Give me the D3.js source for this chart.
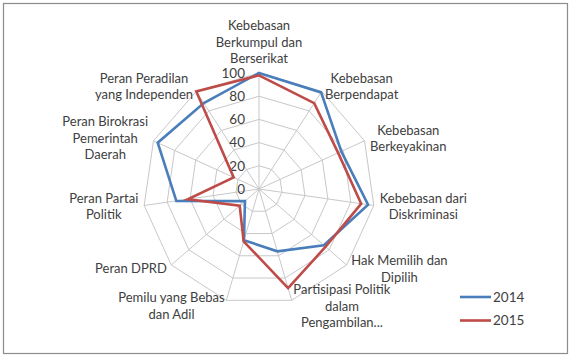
<!DOCTYPE html>
<html>
<head>
<meta charset="utf-8">
<script src="https://cdn.jsdelivr.net/npm/d3@7"></script>
<style>
  body { margin: 0; background: #fff; }
  svg text { font-family: Lato, "Open Sans", sans-serif; fill: #404040; }
</style>
</head>
<body>
<svg id="chart"></svg>
<script>
// categories, clockwise from the top
const categories = [
  ['Kebebasan', 'Berkumpul dan', 'Berserikat'],
  ['Kebebasan', 'Berpendapat'],
  ['Kebebasan', 'Berkeyakinan'],
  ['Kebebasan dari', 'Diskriminasi'],
  ['Hak Memilih dan', 'Dipilih'],
  ['Partisipasi Politik', 'dalam', 'Pengambilan...'],
  ['Pemilu yang Bebas', 'dan Adil'],
  ['Peran DPRD'],
  ['Peran Partai', 'Politik'],
  ['Peran Birokrasi', 'Pemerintah', 'Daerah'],
  ['Peran Peradilan', 'yang Independen']
];

const values2014 = [100, 99, 78, 95, 74, 56, 46, 16, 72, 96, 88];
const values2015 = [98, 88, 75, 89, 76, 89, 47, 22, 62, 24, 100];

const ticks = [0, 20, 40, 60, 80, 100];

const seriesNames = ['2014', '2015'];
const seriesColors = ['#4a7ebb', '#be4b48'];

const width = 573, height = 359;
const cx = 259, cy = 189, radius = 116;

const svg = d3.select('#chart')
    .attr('width', width)
    .attr('height', height);

// chart border
svg.append('rect')
    .attr('x', 3.5).attr('y', 3.5)
    .attr('width', 564).attr('height', 350)
    .attr('fill', '#fff')
    .attr('stroke', '#8c8c8c')
    .attr('stroke-width', 1.2);

const g = svg.append('g').attr('transform', `translate(${cx},${cy})`);

const n = categories.length;
const angle = d3.scaleLinear().domain([0, n]).range([0, 2 * Math.PI]);
const r = d3.scaleLinear().domain([0, 100]).range([0, radius]);

const point = (i, v) => [Math.sin(angle(i)) * r(v), -Math.cos(angle(i)) * r(v)];

// rings
g.selectAll('.ring')
    .data(ticks.filter(t => t > 0))
    .join('polygon')
    .attr('class', 'ring')
    .attr('points', t => d3.range(n).map(i => point(i, t).join(',')).join(' '))
    .attr('fill', 'none')
    .attr('stroke', '#c8c8c8')
    .attr('stroke-width', 1);

// spokes
g.selectAll('.spoke')
    .data(d3.range(n))
    .join('line')
    .attr('class', 'spoke')
    .attr('x1', 0).attr('y1', 0)
    .attr('x2', i => point(i, 100)[0])
    .attr('y2', i => point(i, 100)[1])
    .attr('stroke', '#c8c8c8')
    .attr('stroke-width', 1);

// tick labels
g.selectAll('.tick')
    .data(ticks)
    .join('text')
    .attr('class', 'tick')
    .attr('x', -14)
    .attr('y', t => -r(t))
    .attr('dy', '0.35em')
    .attr('text-anchor', 'end')
    .style('font-size', '13.5px')
    .text(t => t);

// category labels
const lineH = 16.5;
categories.forEach((lines, i) => {
  const a = angle(i);
  const s = Math.sin(a), c = -Math.cos(a);
  const ax = s * (radius + 6), ay = c * (radius + 6);
  const lab = g.append('g');
  const texts = lab.selectAll('text')
      .data(lines)
      .join('text')
      .style('font-size', '13px')
      .attr('text-anchor', 'middle')
      .attr('dy', '0.35em')
      .text(d => d);
  const boxW = d3.max(texts.nodes(), node => node.getComputedTextLength());
  const boxH = lines.length * lineH;
  let bx;
  if (s > 0.01) bx = ax + boxW / 2;
  else if (s < -0.01) bx = ax - boxW / 2;
  else bx = ax;
  let top;
  if (Math.abs(s) <= 0.01 && c < 0) top = ay - boxH;
  else if (Math.abs(s) <= 0.01 && c > 0) top = ay;
  else top = ay - boxH / 2;
  texts.attr('x', bx).attr('y', (d, k) => top + lineH * (k + 0.5));
});

// series
const line = d3.line().curve(d3.curveLinearClosed);
[values2014, values2015].forEach((vals, k) => {
  g.append('path')
      .attr('d', line(vals.map((v, i) => point(i, v))))
      .attr('fill', 'none')
      .attr('stroke', seriesColors[k])
      .attr('stroke-width', 2.6)
      .attr('stroke-linejoin', 'miter');
});

// legend
const legend = svg.append('g').attr('transform', 'translate(460,297)');
seriesNames.forEach((name, k) => {
  const row = legend.append('g').attr('transform', `translate(0,${k * 23.5})`);
  row.append('line')
      .attr('x1', 0).attr('x2', 31)
      .attr('stroke', seriesColors[k])
      .attr('stroke-width', 2.6);
  row.append('text')
      .attr('x', 33)
      .attr('dy', '0.35em')
      .style('font-size', '13.5px')
      .text(name);
});
</script>
</body>
</html>
